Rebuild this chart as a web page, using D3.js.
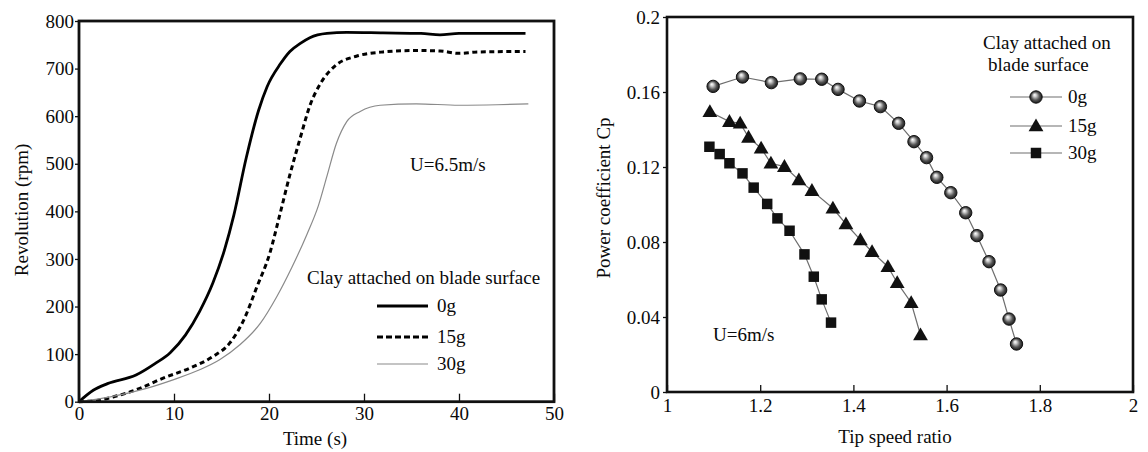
<!DOCTYPE html>
<html>
<head>
<meta charset="utf-8">
<script src="https://cdn.jsdelivr.net/npm/d3@7"></script>
<style>
  body { margin: 0; background: #fff; }
  svg text { font-family: "Liberation Serif", "Times New Roman", serif; fill: #0a0a0a; }
</style>
</head>
<body>
<svg id="chart" width="1148" height="452"></svg>
<script>
// --- left panel: revolution vs time ---
const timeTicks = [0, 10, 20, 30, 40, 50];
const rpmTicks = [0, 100, 200, 300, 400, 500, 600, 700, 800];
const rev0g = [[0,0],[1.5,24],[3,38],[6,56],[8,80],[9.6,103],[11.2,140],[12.7,190],[14.1,250],[15.3,318],[16.3,392],[17.6,512],[18.9,612],[19.8,662],[21.2,710],[22.2,736],[23.3,753],[24.3,765],[26.1,774],[28.2,776],[32,775],[36,774],[38,771],[40,774],[44,774],[47,774]];
const rev15g = [[0,0],[2,3],[3.6,10],[6.4,28],[8.8,49],[11.6,70],[14.1,95],[15.9,124],[17.3,170],[18.7,240],[20.1,313],[21.1,390],[22.2,477],[23.3,555],[24.3,622],[25.4,668],[27.1,708],[29.2,726],[32,735],[35.2,738],[38,737],[40,732],[42,735],[47,736]];
const rev30g = [[0,0],[3.3,10],[7.1,28],[9.9,46],[12.7,67],[14.8,88],[16.9,119],[19.1,165],[20.8,220],[22.4,282],[24,352],[25.2,412],[26.1,474],[27.1,543],[28.2,589],[29.6,610],[31.7,623],[35.5,626],[40,623],[44,624],[47.3,626]];
const revLabels = ["0g", "15g", "30g"];

// --- right panel: power coefficient vs tip speed ratio ---
const tsrTicks = [1, 1.2, 1.4, 1.6, 1.8, 2];
const cpTicks = [0, 0.04, 0.08, 0.12, 0.16, 0.2];
const cp0g = [[1.099,0.163],[1.162,0.168],[1.224,0.165],[1.286,0.167],[1.332,0.1668],[1.367,0.1614],[1.413,0.1552],[1.458,0.1522],[1.497,0.1433],[1.530,0.1335],[1.557,0.125],[1.579,0.1145],[1.609,0.1063],[1.641,0.0956],[1.665,0.0834],[1.691,0.0695],[1.716,0.0544],[1.734,0.0389],[1.750,0.0256]];
const cp15g = [[1.092,0.1495],[1.134,0.1442],[1.157,0.1433],[1.175,0.1358],[1.202,0.130],[1.223,0.122],[1.252,0.1202],[1.283,0.1131],[1.311,0.1074],[1.356,0.098],[1.384,0.0896],[1.415,0.0811],[1.44,0.0748],[1.474,0.0668],[1.494,0.0583],[1.524,0.0476],[1.544,0.0304]];
const cp30g = [[1.091,0.1308],[1.113,0.1269],[1.134,0.122],[1.162,0.1166],[1.186,0.109],[1.215,0.1003],[1.237,0.0926],[1.263,0.086],[1.295,0.0734],[1.315,0.0615],[1.332,0.0494],[1.352,0.037]];
const cpLabels = ["0g", "15g", "30g"];

const svg = d3.select("#chart");
const FS = "19px";

const defs = svg.append("defs");
const grad = defs.append("radialGradient").attr("id", "ball")
  .attr("cx", "50%").attr("cy", "50%").attr("r", "55%").attr("fx", "38%").attr("fy", "32%");
grad.append("stop").attr("offset", "0%").attr("stop-color", "#fff");
grad.append("stop").attr("offset", "22%").attr("stop-color", "#d0d0d0");
grad.append("stop").attr("offset", "60%").attr("stop-color", "#555");
grad.append("stop").attr("offset", "100%").attr("stop-color", "#0c0c0c");

function styleAxis(g) {
  g.select(".domain").remove();
  g.selectAll(".tick line").attr("stroke", "#111").attr("stroke-width", 1.3);
  g.selectAll(".tick text").style("font-size", FS).attr("fill", "#0a0a0a");
}

// ===== left panel =====
const x1 = d3.scaleLinear().domain([0, 50]).range([79, 554]);
const y1 = d3.scaleLinear().domain([0, 800]).range([401.7, 21]);

svg.append("g").attr("transform", `translate(0,${y1(0)})`)
  .call(d3.axisBottom(x1).tickValues(timeTicks).tickSizeInner(-8).tickSizeOuter(0).tickPadding(5))
  .call(styleAxis);
svg.append("g").attr("transform", `translate(${x1(0)},0)`)
  .call(d3.axisLeft(y1).tickValues(rpmTicks).tickSizeInner(4).tickSizeOuter(0).tickPadding(1))
  .call(styleAxis);

const line1 = d3.line().x(d => x1(d[0])).y(d => y1(d[1])).curve(d3.curveMonotoneX);
const revStyles = [
  { stroke: "#000", width: 2.8, dash: null },
  { stroke: "#000", width: 3, dash: "5,3.5" },
  { stroke: "#8a8a8a", width: 1.2, dash: null }
];
[rev0g, rev15g, rev30g].forEach((s, i) => {
  svg.append("path").datum(s).attr("d", line1)
    .attr("fill", "none").attr("stroke", revStyles[i].stroke)
    .attr("stroke-width", revStyles[i].width)
    .attr("stroke-dasharray", revStyles[i].dash);
});

svg.append("rect").attr("x", x1(0)).attr("y", y1(800))
  .attr("width", x1(50) - x1(0)).attr("height", y1(0) - y1(800))
  .attr("fill", "none").attr("stroke", "#111").attr("stroke-width", 2.8);

svg.append("text").attr("x", 410).attr("y", 171).style("font-size", FS).text("U=6.5m/s");

svg.append("text").attr("x", 307).attr("y", 284).style("font-size", FS).text("Clay attached on blade surface");
revLabels.forEach((lab, i) => {
  const yy = [306, 337, 364][i];
  svg.append("line").attr("x1", 377).attr("x2", 428).attr("y1", yy).attr("y2", yy)
    .attr("stroke", revStyles[i].stroke).attr("stroke-width", revStyles[i].width)
    .attr("stroke-dasharray", i === 1 ? "6,3" : null);
  svg.append("text").attr("x", 437).attr("y", yy + 6).style("font-size", FS).text(lab);
});

svg.append("text").attr("x", 315).attr("y", 445).attr("text-anchor", "middle")
  .style("font-size", FS).text("Time (s)");
svg.append("text").attr("transform", "translate(28,210) rotate(-90)").attr("text-anchor", "middle")
  .style("font-size", FS).text("Revolution (rpm)");

// ===== right panel =====
const x2 = d3.scaleLinear().domain([1, 2]).range([667, 1133]);
const y2 = d3.scaleLinear().domain([0, 0.2]).range([392, 17]);

svg.append("g").attr("transform", `translate(0,${y2(0)})`)
  .call(d3.axisBottom(x2).tickValues(tsrTicks).tickFormat(d3.format("")).tickSizeInner(-7).tickSizeOuter(0).tickPadding(7))
  .call(styleAxis);
svg.append("g").attr("transform", `translate(${x2(1)},0)`)
  .call(d3.axisLeft(y2).tickValues(cpTicks).tickFormat(d3.format("")).tickSizeInner(4).tickSizeOuter(0).tickPadding(3))
  .call(styleAxis);

const line2 = d3.line().x(d => x2(d[0])).y(d => y2(d[1]));
[cp0g, cp15g, cp30g].forEach(s => {
  svg.append("path").datum(s).attr("d", line2)
    .attr("fill", "none").attr("stroke", "#6e6e6e").attr("stroke-width", 1.2);
});

function drawMarker(g, kind, cx, cy) {
  if (kind === 0) {
    g.append("circle").attr("cx", cx).attr("cy", cy).attr("r", 6.2)
      .attr("fill", "url(#ball)").attr("stroke", "#111").attr("stroke-width", 1);
  } else {
    const sym = kind === 1 ? d3.symbolTriangle : d3.symbolSquare;
    const size = kind === 1 ? 95 : 110;
    g.append("path").attr("d", d3.symbol().type(sym).size(size)())
      .attr("transform", `translate(${cx},${cy + (kind === 1 ? 1 : 0)})`).attr("fill", "#111");
  }
}
const mk = svg.append("g");
[cp0g, cp15g, cp30g].forEach((s, k) => {
  s.forEach(d => drawMarker(mk, k, x2(d[0]), y2(d[1])));
});

svg.append("rect").attr("x", x2(1)).attr("y", y2(0.2))
  .attr("width", x2(2) - x2(1)).attr("height", y2(0) - y2(0.2))
  .attr("fill", "none").attr("stroke", "#111").attr("stroke-width", 2.6);

svg.append("text").attr("x", 713).attr("y", 341).style("font-size", FS).text("U=6m/s");

svg.append("text").attr("x", 983).attr("y", 49).style("font-size", FS).text("Clay attached on");
svg.append("text").attr("x", 988).attr("y", 71).style("font-size", FS).text("blade surface");
cpLabels.forEach((lab, i) => {
  const yy = [97, 126, 153][i];
  svg.append("line").attr("x1", 1010).attr("x2", 1062).attr("y1", yy).attr("y2", yy)
    .attr("stroke", "#6e6e6e").attr("stroke-width", 1.2);
  drawMarker(svg, i, 1036, yy);
  svg.append("text").attr("x", 1068).attr("y", yy + 6).style("font-size", FS).text(lab);
});

svg.append("text").attr("x", 895).attr("y", 443).attr("text-anchor", "middle")
  .style("font-size", FS).text("Tip speed ratio");
svg.append("text").attr("transform", "translate(610,198) rotate(-90)").attr("text-anchor", "middle")
  .style("font-size", FS).text("Power coefficient Cp");
</script>
</body>
</html>
